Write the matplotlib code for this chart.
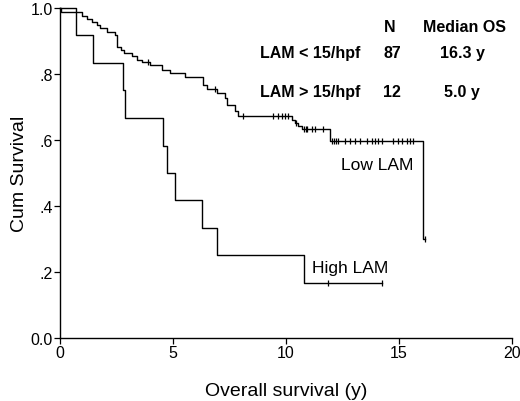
import numpy as np
import matplotlib
matplotlib.use("Agg")
import matplotlib.pyplot as plt

plt.rcParams['font.family'] = ['Liberation Sans', 'DejaVu Sans']

# Low LAM (LAM < 15/hpf): drop times and survival after each drop
low_times = [0.05, 0.96, 1.21, 1.40, 1.62, 1.77, 2.06, 2.43, 2.51, 2.70, 2.85, 3.17,
             3.39, 3.61, 3.98, 4.50, 4.87, 5.53, 6.34, 6.49, 6.93, 7.30, 7.37, 7.74,
             7.89, 10.28, 10.40, 10.55, 10.69, 11.95, 16.05]
low_surv = [0.989, 0.977, 0.966, 0.957, 0.949, 0.938, 0.927, 0.918, 0.883, 0.873,
            0.863, 0.853, 0.843, 0.835, 0.826, 0.813, 0.803, 0.790, 0.767, 0.754,
            0.742, 0.727, 0.707, 0.687, 0.672, 0.662, 0.652, 0.641, 0.634, 0.596, 0.299]
low_censored = [3.91, 6.86, 8.08, 9.44, 9.66, 9.81, 9.96, 10.10, 10.45, 10.80, 10.88,
                10.94, 11.14, 11.28, 11.65, 12.05, 12.12, 12.20, 12.30, 12.60, 12.83,
                13.05, 13.27, 13.57, 13.79, 13.94, 14.08, 14.23, 14.75, 14.97, 15.12,
                15.34, 15.49, 15.63, 16.15]

# High LAM (LAM > 15/hpf)
high_times = [0.70, 1.47, 2.77, 2.88, 4.57, 4.75, 5.09, 6.27, 6.93, 10.81]
high_surv = [0.917, 0.833, 0.750, 0.667, 0.583, 0.500, 0.417, 0.333, 0.250, 0.167]
high_censored = [11.87, 14.26]

table_rows = [("LAM < 15/hpf", "87", "16.3 y"), ("LAM > 15/hpf", "12", "5.0 y")]


def curva(times, surv, censored):
    x = np.array([0.0] + list(times) + [max(censored)])
    y = np.array([1.0] + list(surv) + [surv[-1]])
    cx = np.array(censored)
    idx = np.searchsorted(np.array(times), cx, side="right")
    cy = np.array([1.0] + list(surv))[idx]
    return x, y, cx, cy


fig = plt.figure(figsize=(5.2, 4.02), dpi=100)
ax = fig.add_axes([0.1154, 0.1567, 0.8692, 0.821])

for t, s, c in [(low_times, low_surv, low_censored), (high_times, high_surv, high_censored)]:
    x, y, cx, cy = curva(t, s, c)
    ax.step(x, y, where="post", color="black", lw=1.0, clip_on=False)
    ax.plot(cx, cy, ls="none", marker="|", ms=5, mew=0.9, color="black", clip_on=False)

ax.set_xlim(0, 20)
ax.set_ylim(0, 1.0)
ax.set_xticks([0, 5, 10, 15, 20])
ax.set_yticks([0, 0.2, 0.4, 0.6, 0.8, 1.0])
ax.set_yticklabels(["0.0", ".2", ".4", ".6", ".8", "1.0"])
ax.tick_params(labelsize=11.5, length=4, width=0.9, colors="black", pad=1)
for lado in ["top", "right"]:
    ax.spines[lado].set_visible(False)
for lado in ["left", "bottom"]:
    ax.spines[lado].set_linewidth(1.0)

ax.set_xlabel("Overall survival (y)", fontsize=14, labelpad=16)
ax.set_ylabel("Cum Survival", fontsize=14, labelpad=2)

# tabla de medianas
ax.text(14.6, 0.944, "N", ha="center", va="center", fontsize=11.5, fontweight="bold")
ax.text(17.9, 0.944, "Median OS", ha="center", va="center", fontsize=11.5, fontweight="bold")
for i, (nombre, n, med) in enumerate(table_rows):
    yy = 0.864 - i * 0.116
    ax.text(8.85, yy, nombre, ha="left", va="center", fontsize=11.5, fontweight="bold")
    ax.text(14.7, yy, n, ha="center", va="center", fontsize=11.5, fontweight="bold")
    ax.text(17.8, yy, med, ha="center", va="center", fontsize=11.5, fontweight="bold")

ax.text(14.05, 0.526, "Low LAM", ha="center", va="center", fontsize=12.5)
ax.text(12.83, 0.214, "High LAM", ha="center", va="center", fontsize=12.5)

fig.savefig("out.png", dpi=100)
